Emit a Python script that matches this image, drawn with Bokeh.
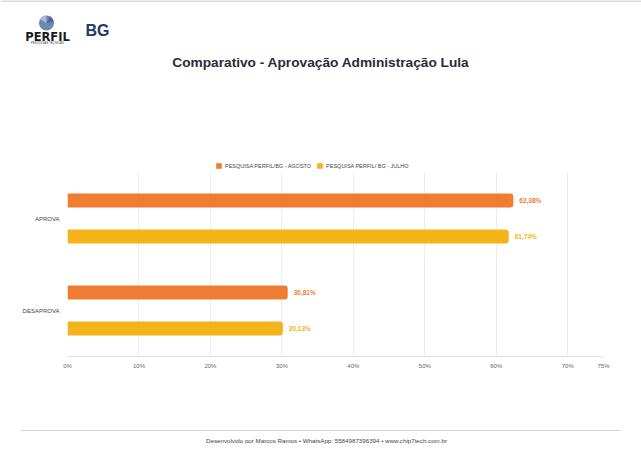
from bokeh.plotting import figure
from bokeh.models import (Range1d, FactorRange, FixedTicker, Legend, LegendItem,
                          ColumnDataSource)
from bokeh.transform import dodge
from bokeh.layouts import column
from bokeh.embed import file_html
from bokeh.resources import INLINE
from bokeh.core.properties import value

# ---- data ----
categories = ["APROVA", "DESAPROVA"]
agosto = [62.38, 30.81]
julho = [61.74, 30.13]
series_names = ["PESQUISA PERFIL/BG - AGOSTO", "PESQUISA PERFIL/ BG - JULHO"]
x_ticks = [0, 10, 20, 30, 40, 50, 60, 70, 75]
title_text = "Comparativo - Aprovação Administração Lula"
footer_text = "Desenvolvido por Marcos Ramos \u2022 WhatsApp: 5584987396394 \u2022 www.chip7tech.com.br"

ORANGE = "#EE7D31"
YELLOW = "#F2B418"
FONT = "Liberation Sans"
W = 641
H_HEAD, H_CHART, H_FOOT = 170, 205, 81


def fmt(v):
    return f"{v:.2f}".replace(".", ",") + "%"


def blank(h, y0, y1):
    f = figure(width=W, height=h, output_backend="svg", toolbar_location=None,
               x_range=Range1d(0, W), y_range=Range1d(y1, y0), frame_align=False,
               min_border=0, min_border_left=0, min_border_right=0,
               min_border_top=0, min_border_bottom=0)
    f.axis.visible = False
    f.grid.visible = False
    f.outline_line_color = None
    return f


src = ColumnDataSource(dict(cat=categories, agosto=agosto, julho=julho,
                            lab_a=[fmt(v) for v in agosto], lab_j=[fmt(v) for v in julho]))

# ---- header ----
head = blank(H_HEAD, 0, H_HEAD)
head.segment(x0=[0], y0=[0.5], x1=[W], y1=[0.5], line_color="#CFCFCF", line_width=1.5)
# PERFIL logo
head.circle(x=[46], y=[22.5], radius=7.5, fill_color="#6E86B2", line_color=None)
head.wedge(x=[46], y=[22.5], radius=7.5, start_angle=1.6, end_angle=2.6,
           fill_color="#A9B9D3", line_color=None)
head.wedge(x=[46], y=[22.5], radius=7.5, start_angle=0.2, end_angle=1.1,
           fill_color="#4F6794", line_color=None)
head.text(x=[47], y=[36], text=["PERFIL"], text_align="center", text_baseline="middle",
          text_font=value("DejaVu Sans"), text_font_style="bold", text_font_size="11.5px",
          text_color="#1a1a1a")
head.text(x=[47], y=[42.5], text=["PESQUISAS TÉCNICAS"], text_align="center",
          text_baseline="middle", text_font=value(FONT), text_font_size="3px",
          text_color="#444444")
head.text(x=[97], y=[30], text=["BG"], text_align="center", text_baseline="middle",
          text_font=value(FONT), text_font_style="bold", text_font_size="16px",
          text_color="#22376B")
head.text(x=[320.5], y=[62], text=[title_text], text_align="center", text_baseline="middle",
          text_font=value(FONT), text_font_style="bold", text_font_size="13.7px",
          text_color="#2B2B38")

# legend swatches: same series as zero-size bars (invisible), used only so that
# the legend (placed just above the chart) can show its swatches
lg1 = head.hbar(y=-20, left="agosto", right="agosto", height=0, source=src,
                fill_color=ORANGE, line_color=None)
lg2 = head.hbar(y=-20, left="julho", right="julho", height=0, source=src,
                fill_color=YELLOW, line_color=None)
legend = Legend(items=[LegendItem(label=series_names[0], renderers=[lg1]),
                       LegendItem(label=series_names[1], renderers=[lg2])],
                orientation="horizontal", location=(215, 1),
                label_text_font=FONT, label_text_font_size="5.5px", label_text_color="#444444",
                glyph_width=7, glyph_height=7, label_height=7, label_standoff=3,
                spacing=5, padding=3, margin=0, border_line_color=None,
                background_fill_alpha=0)
head.add_layout(legend, "center")

# ---- chart ----
p = figure(width=W, height=H_CHART, output_backend="svg", toolbar_location=None,
           x_range=Range1d(0, 75), y_range=FactorRange(factors=categories[::-1]),
           frame_align=False,
           min_border_left=67, min_border_right=38, min_border_top=2, min_border_bottom=19)
p.outline_line_color = None
p.ygrid.grid_line_color = None
p.xgrid.grid_line_color = "#EDEDED"

off = 0.196
p.hbar(y=dodge("cat", off, range=p.y_range), right="agosto", left=0, height=0.152,
       source=src, fill_color=ORANGE, line_color=None, border_radius=(0, 3, 3, 0))
p.hbar(y=dodge("cat", -off, range=p.y_range), right="julho", left=0, height=0.152,
       source=src, fill_color=YELLOW, line_color=None, border_radius=(0, 3, 3, 0))
p.text(x="agosto", y=dodge("cat", off, range=p.y_range), text="lab_a", source=src,
       x_offset=6, text_baseline="middle", text_font=value(FONT), text_font_style="bold",
       text_font_size="6.5px", text_color=ORANGE)
p.text(x="julho", y=dodge("cat", -off, range=p.y_range), text="lab_j", source=src,
       x_offset=6, text_baseline="middle", text_font=value(FONT), text_font_style="bold",
       text_font_size="6.5px", text_color=YELLOW)

p.xaxis.ticker = FixedTicker(ticks=x_ticks)
p.xaxis.major_label_overrides = {t: f"{t}%" for t in x_ticks}
p.xaxis.axis_line_color = "#E3E3E3"
p.xaxis.major_tick_line_color = None
p.xaxis.major_tick_out = 0
p.xaxis.minor_tick_line_color = None
p.xaxis.major_label_text_font = FONT
p.xaxis.major_label_text_font_size = "6px"
p.xaxis.major_label_text_color = "#666666"
p.xaxis.major_label_standoff = 6

p.yaxis.axis_line_color = None
p.yaxis.major_tick_line_color = None
p.yaxis.major_tick_out = 0
p.yaxis.minor_tick_line_color = None
p.yaxis.major_label_text_font = FONT
p.yaxis.major_label_text_font_size = "6px"
p.yaxis.major_label_text_color = "#444444"
p.yaxis.major_label_standoff = 8

# ---- footer ----
foot = blank(H_FOOT, H_HEAD + H_CHART, H_HEAD + H_CHART + H_FOOT)
foot.segment(x0=[20], y0=[430], x1=[620], y1=[430], line_color="#D5D5D5", line_width=1)
foot.text(x=[326], y=[440], text=[footer_text], text_align="center", text_baseline="middle",
          text_font=value(FONT), text_font_size="6.2px", text_color="#444444")

layout = column(head, p, foot, spacing=0)
open("out.html", "w").write(file_html(layout, INLINE))
